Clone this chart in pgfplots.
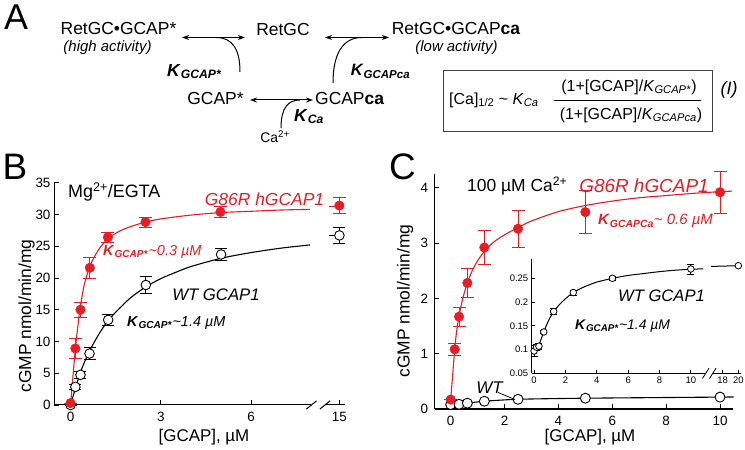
\documentclass[border=0pt]{standalone}
\usepackage{fontspec}
\setmainfont{Liberation Sans}
\usepackage{pgfplots}
\pgfplotsset{compat=1.18}
\usetikzlibrary{arrows.meta}
\definecolor{myred}{RGB}{230,30,36}
\newcommand{\fs}[1]{\fontsize{#1}{#1}\selectfont}
\newcommand{\Kb}[1]{\textbf{\textit{K}}\textsubscript{\textbf{\textit{#1}}}}
\newcommand{\Ki}[1]{\textit{K}\textsubscript{\textit{#1}}}
\pgfplotsset{mystyle/.style={scale only axis, clip=false, anchor=south west,
  axis lines*=left, axis line style={line width=1bp, black},
  tick style={line width=0.8bp, black}, major tick length=4.5bp, tick align=inside,
  ticklabel style={font=\fs{13.5}}}}
\begin{document}
\begin{tikzpicture}[x=1bp,y=1bp]
\useasboundingbox (0,0) rectangle (745,450);

% ================= Panel B =================
\begin{axis}[mystyle, at={(54bp,45bp)}, width=290.5bp, height=222.3bp,
  xmin=-0.55, xmax=9.1, ymin=0, ymax=35,
  x axis line style={draw=none},
  xtick={0,3,6,8.93}, xticklabels={0,3,6,15},
  ytick={0,5,10,15,20,25,30,35}, yticklabels={0,5,10,15,20,25,30,35},
  xticklabel style={yshift=-4bp}]
\addplot[black, line width=1.1bp, smooth, mark=none] coordinates {
 (0,0) (0.16,2.6) (0.31,4.9) (0.45,6.6) (0.62,8.4) (0.8,10) (1.0,11.6) (1.25,13.3)
 (1.6,15.1) (2.0,16.9) (2.5,18.6) (3,19.9) (3.5,20.9) (4,21.8) (5,23.1) (6,24.0) (7,24.7) (7.95,25.2)};
\addplot[black, line width=1.1bp, mark=none] coordinates {(8.6,26.75) (8.93,26.75)};
\addplot[myred, line width=1.1bp, smooth, mark=none] coordinates {
 (0,0) (0.08,4.5) (0.16,8.9) (0.24,12.3) (0.31,15) (0.45,18.8) (0.62,21.6) (0.8,23.4)
 (1.0,24.9) (1.25,26.2) (1.6,27.3) (2.0,28.1) (2.5,28.8) (3,29.3) (4,29.9) (5,30.3) (6,30.5) (7,30.7) (7.95,30.8)};
\addplot[myred, line width=1.1bp, mark=none] coordinates {(8.6,31.3) (9.07,31.3)};
\addplot[black, only marks, mark=*, mark size=4.8bp, mark options={fill=white, draw=black, line width=0.9bp},
  error bars/.cd, y dir=both, y explicit, error bar style={line width=0.9bp, black},
  error mark options={rotate=90, line width=0.9bp, mark size=6bp, black}] coordinates {
 (0,0) +- (0,0)
 (0.16,2.85) +- (0,0.4)
 (0.33,4.75) +- (0,0.6)
 (0.63,8.1) +- (0,0.9)
 (1.25,13.4) +- (0,0.8)
 (2.5,18.9) +- (0,1.3)
 (5,23.7) +- (0,0.9)
 (8.93,26.7) +- (0,1.3)};
\addplot[myred, only marks, mark=*, mark size=4.8bp, mark options={fill=myred, draw=myred},
  error bars/.cd, y dir=both, y explicit, error bar style={line width=0.9bp, myred},
  error mark options={rotate=90, line width=0.9bp, mark size=6.5bp, myred}] coordinates {
 (0,0.3) +- (0,0)
 (0.16,8.9) +- (0,1.6)
 (0.33,15.0) +- (0,1.2)
 (0.64,21.6) +- (0,1.7)
 (1.24,26.4) +- (0,0.8)
 (2.49,28.8) +- (0,0.8)
 (4.98,30.4) +- (0,0.9)
 (8.93,31.4) +- (0,1.3)};
\draw[line width=1bp] (axis cs:-0.55,0) -- (axis cs:8.0,0);
\draw[line width=1bp] (axis cs:8.45,0) -- (axis cs:9.1,0);
\draw[line width=1bp] (axis cs:7.83,-0.65) -- (axis cs:8.17,0.65);
\draw[line width=1bp] (axis cs:8.28,-0.65) -- (axis cs:8.62,0.65);
\end{axis}

% ================= Panel C =================
\begin{axis}[mystyle, at={(434.5bp,41bp)}, width=298.7bp, height=235bp,
  xmin=-0.6, xmax=10.49, ymin=0, ymax=4.25,
  x axis line style={line width=1.6bp},
  xtick={0,2,4,6,8,10}, xticklabels={0,2,4,6,8,10},
  ytick={0,1,2,3,4}, yticklabels={0,1,2,3,4},
  xticklabel style={yshift=-4bp}, yticklabel style={xshift=-3bp}]
\addplot[myred, line width=1.1bp, smooth, mark=none] coordinates {
 (0,0.17) (0.08,0.65) (0.15,1.08) (0.22,1.4) (0.31,1.68) (0.45,2.0) (0.62,2.28) (0.8,2.5)
 (1.0,2.68) (1.25,2.85) (1.6,3.02) (2.0,3.15) (2.5,3.28) (3,3.4) (4,3.57) (5,3.68) (6,3.76)
 (7,3.82) (8,3.86) (9,3.9) (10,3.93) (10.45,3.94)};
\addplot[black, line width=1.1bp, smooth, mark=none] coordinates {
 (0,0.08) (0.31,0.085) (0.62,0.105) (1.25,0.14) (2.5,0.175) (5,0.195) (10,0.215) (10.45,0.216)};
\addplot[black, only marks, mark=*, mark size=5bp, mark options={fill=white, draw=black, line width=0.9bp}] coordinates {
 (0,0.08) (0.31,0.085) (0.62,0.105) (1.25,0.14) (2.5,0.175) (5,0.195) (10,0.215)};
\addplot[myred, only marks, mark=*, mark size=4.8bp, mark options={fill=myred, draw=myred},
  error bars/.cd, y dir=both, y explicit, error bar style={line width=0.9bp, myred},
  error mark options={rotate=90, line width=0.9bp, mark size=6.5bp, myred}] coordinates {
 (0,0.17) +- (0,0)
 (0.15,1.08) +- (0,0.11)
 (0.31,1.67) +- (0,0.17)
 (0.62,2.28) +- (0,0.26)
 (1.25,2.92) +- (0,0.31)
 (2.5,3.26) +- (0,0.33)
 (5,3.56) +- (0,0.39)
 (10,3.92) +- (0,0.38)};
\end{axis}

% ================= Inset =================
\begin{axis}[mystyle, at={(531.7bp,76.7bp)}, width=209.3bp, height=114bp,
  xmin=-0.15, xmax=13.2, ymin=0.05, ymax=0.29,
  axis line style={line width=0.8bp}, x axis line style={draw=none},
  major tick length=3bp, ticklabel style={font=\fs{9.5}},
  xtick={0,2,4,6,8,10,12.03,13.03}, xticklabels={0,2,4,6,8,10,18,20},
  ytick={0.05,0.1,0.15,0.2,0.25}, yticklabels={0.05,0.1,0.15,0.2,0.25}]
\addplot[black, line width=1bp, smooth, mark=none] coordinates {
 (0,0.097) (0.16,0.104) (0.31,0.11) (0.45,0.122) (0.62,0.137) (0.8,0.152) (1.0,0.166) (1.25,0.18)
 (1.6,0.194) (2.0,0.207) (2.5,0.22) (3,0.229) (3.5,0.236) (4,0.242) (5,0.25) (6,0.256) (7,0.26)
 (8,0.264) (9,0.267) (10,0.269) (10.8,0.27)};
\addplot[black, line width=1bp, mark=none] coordinates {(11.3,0.275) (13.03,0.2765)};
\addplot[black, only marks, mark=*, mark size=3.3bp, mark options={fill=white, draw=black, line width=0.8bp},
  error bars/.cd, y dir=both, y explicit, error bar style={line width=0.8bp, black},
  error mark options={rotate=90, line width=0.8bp, mark size=3.5bp, black}] coordinates {
 (0,0.097) +- (0,0.011)
 (0.16,0.105) +- (0,0.006)
 (0.31,0.107) +- (0,0.006)
 (0.62,0.137) +- (0,0.004)
 (1.25,0.18) +- (0,0.006)
 (2.5,0.22) +- (0,0.005)
 (5,0.25) +- (0,0.005)
 (10,0.2696) +- (0,0.0105)
 (13.03,0.2765) +- (0,0)};
\draw[line width=0.8bp] (axis cs:-0.15,0.05) -- (axis cs:10.95,0.05);
\draw[line width=0.8bp] (axis cs:11.4,0.05) -- (axis cs:13.2,0.05);
\draw[line width=0.8bp] (axis cs:10.74,0.039) -- (axis cs:11.16,0.061);
\draw[line width=0.8bp] (axis cs:11.19,0.039) -- (axis cs:11.61,0.061);
\end{axis}

% ================= Panel A =================
\node at (16,432.5) {\fs{36}A};
\node[inner sep=0] at (118.5,421) {\fs{17.5}RetGC•GCAP*};
\node[inner sep=0] at (107.5,402.5) {\fs{15}\textit{(high activity)}};
\node at (283,420) {\fs{17.5}RetGC};
\draw[line width=1bp, {Stealth[length=7bp,width=5bp]}-{Stealth[length=7bp,width=5bp]}] (182,412.5) -- (245,412.5);
\draw[line width=1bp] (240,378) .. controls (240,400) and (233,412.5) .. (216,412.5);
\node at (194.5,378.5) {\fs{17.5}\Kb{GCAP*}};
\node at (215.5,351) {\fs{17.5}GCAP*};
\draw[line width=1bp, {Stealth[length=7bp,width=5bp]}-{Stealth[length=7bp,width=5bp]}] (250,350) -- (313,350);
\node[anchor=west, inner sep=0] at (315,351) {\fs{17.5}GCAP\textbf{ca}};
\node at (275,313.5) {\fs{14}Ca\textsuperscript{2+}};
\draw[line width=1bp] (281,322) .. controls (281,342) and (288,350) .. (300,350);
\node at (309,333.5) {\fs{17.5}\Kb{Ca}};
\draw[line width=1bp, {Stealth[length=7bp,width=5bp]}-{Stealth[length=7bp,width=5bp]}] (325,412.5) -- (389,412.5);
\draw[line width=1bp] (333,367) .. controls (333,395) and (342,412.5) .. (362,412.5);
\node at (380.5,378.5) {\fs{16.5}\Kb{GCAPca}};
\node[anchor=west, inner sep=0] at (391.7,421) {\fs{17.5}RetGC•GCAP\textbf{ca}};
\node[inner sep=0] at (456.5,402.5) {\fs{15}\textit{(low activity)}};
\draw[line width=0.9bp, black!75] (443.3,380) rectangle (712.7,318.3);
\node[anchor=west, inner sep=0] at (449,350) {\fs{16}[Ca]\textsubscript{1/2} \textasciitilde{} \Ki{Ca}};
\node at (629,363) {\fs{16}(1+[GCAP]/\Ki{GCAP*})};
\draw[line width=0.8bp] (554,350) -- (701,350);
\node at (631,335) {\fs{16}(1+[GCAP]/\Ki{GCAPca})};
\node at (729,360) {\fs{18}\textit{(I)}};

% ================= Panel B labels =================
\node at (15,283) {\fs{37}B};
\node[anchor=west, inner sep=0] at (68,258) {\fs{18}Mg\textsuperscript{2+}/EGTA};
\node[myred] at (264.5,251) {\fs{17.5}\textit{G86R hGCAP1}};
\node[myred, anchor=west, inner sep=0] at (103,198.3) {\fs{14.5}\Kb{GCAP*}\textit{\textasciitilde0.3 µM}};
\node at (216,155) {\fs{16.8}\textit{WT GCAP1}};
\node[anchor=west, inner sep=0] at (127,127.3) {\fs{14.5}\Kb{GCAP*}\textit{\textasciitilde1.4 µM}};
\node at (204,13.3) {\fs{17}[GCAP], µM};
\node[rotate=90] at (26.5,134) {\fs{17.5}cGMP nmol/min/mg};

% ================= Panel C labels =================
\node at (402.5,283) {\fs{37}C};
\node[anchor=west, inner sep=0] at (467,264) {\fs{17.5}100 µM Ca\textsuperscript{2+}};
\node[myred] at (644,264) {\fs{19}\textit{G86R hGCAP1}};
\node[myred, anchor=west, inner sep=0] at (598,229) {\fs{15}\Kb{GCAPCa}\textit{\textasciitilde{} 0.6 µM}};
\node at (490,62) {\fs{17}\textit{WT}};
\draw[line width=0.8bp] (498,57.5) -- (515,50.5);
\node at (661.5,154.5) {\fs{16.7}\textit{WT GCAP1}};
\node[anchor=west, inner sep=0] at (575,124) {\fs{14}\Kb{GCAP*}\textit{\textasciitilde1.4 µM}};
\node at (590,13.3) {\fs{17}[GCAP], µM};
\node[rotate=90] at (405,149) {\fs{17.5}cGMP nmol/min/mg};
\end{tikzpicture}
\end{document}
